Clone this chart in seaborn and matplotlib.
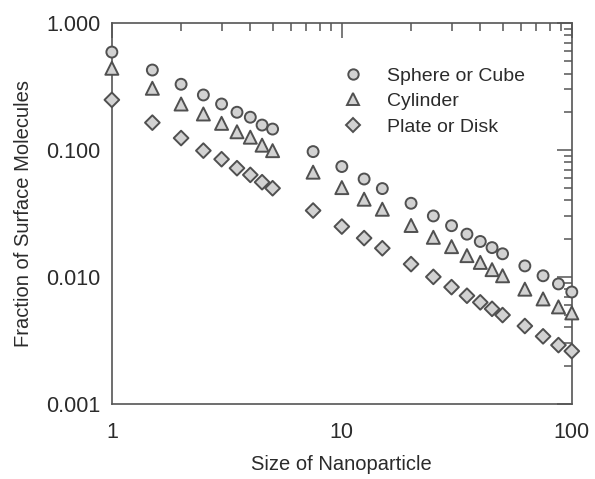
import matplotlib
matplotlib.use("Agg")
import matplotlib.pyplot as plt
import matplotlib.ticker as mticker
import seaborn as sns
import pandas as pd

# ---- data ----
sizes = [1, 1.5, 2, 2.5, 3, 3.5, 4, 4.5, 5, 7.5, 10, 12.5, 15, 20, 25, 30,
         35, 40, 45, 50, 62.5, 75, 87.5, 100]
sphere = [0.59, 0.426, 0.329, 0.271, 0.230, 0.198, 0.181, 0.157, 0.146,
          0.097, 0.074, 0.059, 0.0496, 0.038, 0.0302, 0.0253, 0.0217, 0.019,
          0.017, 0.0152, 0.0122, 0.0102, 0.0088, 0.0076]
cylinder = [0.44, 0.306, 0.230, 0.192, 0.162, 0.139, 0.126, 0.109, 0.0987,
            0.0668, 0.0505, 0.0409, 0.0341, 0.0254, 0.0205, 0.0173, 0.0147,
            0.0130, 0.0114, 0.0102, 0.0080, 0.0067, 0.0058, 0.0052]
plate = [0.248, 0.164, 0.124, 0.0987, 0.0845, 0.0718, 0.0636, 0.0557, 0.0499,
         0.0333, 0.0249, 0.0202, 0.0168, 0.0126, 0.0100, 0.0083, 0.0071,
         0.0063, 0.0056, 0.0050, 0.0041, 0.0034, 0.0029, 0.0026]
series_names = ["Sphere or Cube", "Cylinder", "Plate or Disk"]
y_ticks = [0.001, 0.01, 0.1, 1.0]
y_tick_labels = ["0.001", "0.010", "0.100", "1.000"]
x_ticks = [1, 10, 100]
x_tick_labels = ["1", "10", "100"]

df = pd.DataFrame({
    "size": sizes * 3,
    "fraction": sphere + cylinder + plate,
    "shape": [series_names[0]] * len(sizes) + [series_names[1]] * len(sizes)
             + [series_names[2]] * len(sizes),
})

sns.set_style("white")
plt.rcParams["font.family"] = ["Liberation Sans", "DejaVu Sans"]
text_c = "#2b2b2b"
axis_c = "#555555"

fig = plt.figure(figsize=(5.95, 4.79), dpi=100)
ax = fig.add_axes([0.188, 0.157, 0.773, 0.795])

sns.scatterplot(
    data=df, x="size", y="fraction", style="shape", size="shape",
    markers={series_names[0]: "o", series_names[1]: "^", series_names[2]: "D"},
    sizes={series_names[0]: 62, series_names[1]: 88, series_names[2]: 56},
    color="#d2d2d2", edgecolor="#505050", linewidth=1.4,
    clip_on=False, zorder=3, ax=ax, legend=True,
)
ax.set_xscale("log")
ax.set_yscale("log")
ax.set_xlim(1, 100)
ax.set_ylim(0.001, 1.0)

ax.set_xticks(x_ticks)
ax.set_xticklabels(x_tick_labels)
ax.set_yticks(y_ticks)
ax.set_yticklabels(y_tick_labels)
ax.xaxis.set_minor_locator(mticker.LogLocator(base=10, subs=range(2, 10)))
ax.yaxis.set_minor_locator(mticker.LogLocator(base=10, subs=range(2, 10)))
ax.xaxis.set_minor_formatter(mticker.NullFormatter())
ax.yaxis.set_minor_formatter(mticker.NullFormatter())

ax.tick_params(which="both", direction="in", top=True, right=True,
               color=axis_c, width=1.1, labelsize=15.5, labelcolor=text_c)
ax.tick_params(which="major", length=11)
ax.tick_params(axis="y", which="major", pad=8)
ax.tick_params(axis="x", which="major", pad=13)
ax.tick_params(which="minor", length=6)
for sp in ax.spines.values():
    sp.set_visible(True)
    sp.set_color(axis_c)
    sp.set_linewidth(1.2)

ax.set_xlabel("Size of Nanoparticle", fontsize=14.5, color=text_c, labelpad=9)
ax.set_ylabel("Fraction of Surface Molecules", fontsize=14.5, color=text_c,
              labelpad=10)

leg = ax.legend(loc="upper left", bbox_to_anchor=(0.445, 0.93), frameon=False,
                fontsize=14, markerscale=0.95, handletextpad=0.7,
                labelspacing=0.4, title=None)
for t in leg.get_texts():
    t.set_color(text_c)

fig.savefig("out.png", dpi=100)
